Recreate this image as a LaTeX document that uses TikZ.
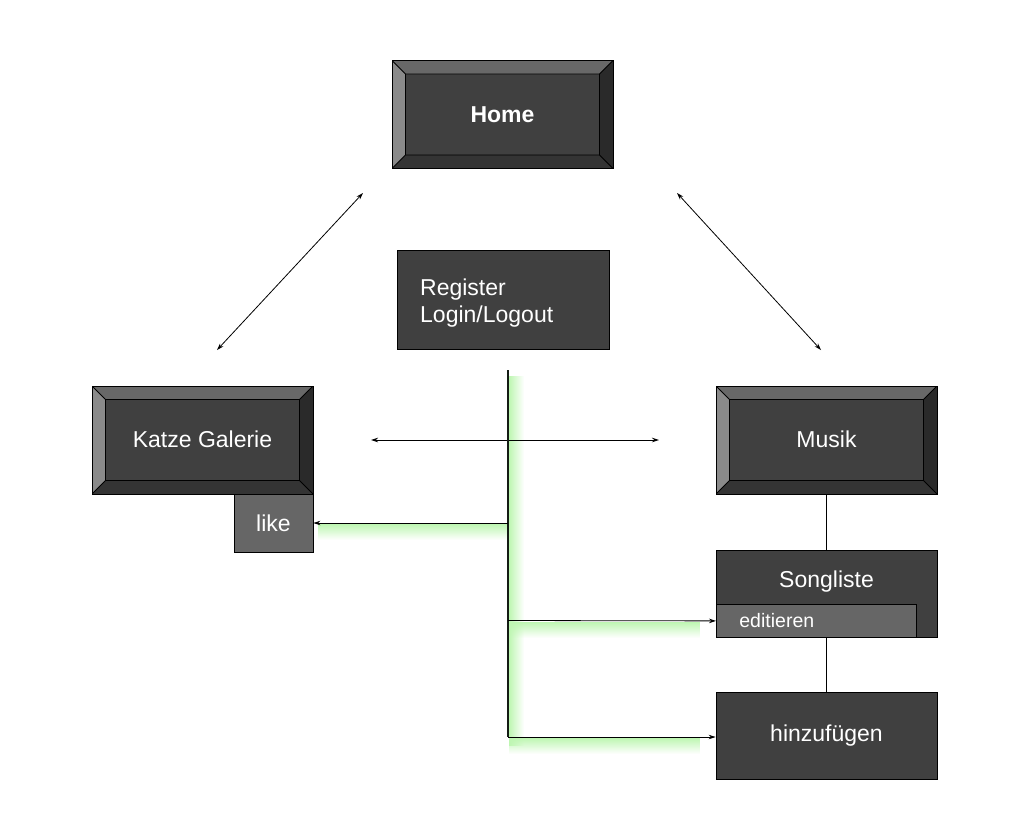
\documentclass[tikz,border=0pt]{standalone}
\usepackage{fontspec}
\setmainfont{Liberation Sans}
\usetikzlibrary{arrows.meta,fadings}
\definecolor{face}{RGB}{64,64,64}
\definecolor{subface}{RGB}{102,102,102}
\definecolor{bvtop}{RGB}{104,104,104}
\definecolor{bvleft}{RGB}{138,138,138}
\definecolor{bvright}{RGB}{42,42,42}
\definecolor{bvbot}{RGB}{52,52,52}
\definecolor{glow}{RGB}{190,246,178}
\definecolor{vline}{RGB}{20,28,20}
\newcommand{\mfont}{\fontsize{23}{27}\selectfont}
\newcommand{\sfont}{\fontsize{19.5}{22}\selectfont}
\tikzfading[name=glowright, left color=transparent!0, right color=transparent!100]
\tikzfading[name=glowdown, top color=transparent!0, bottom color=transparent!100]
\tikzset{
  bevel/.style={draw=black, line width=0.8pt, fill=face, text=white, font=\mfont,
    minimum width=221pt, minimum height=108pt, inner sep=0pt,
    path picture={
      \path (path picture bounding box.north west) coordinate (pa)
            (path picture bounding box.north east) coordinate (pb)
            (path picture bounding box.south east) coordinate (pc)
            (path picture bounding box.south west) coordinate (pd);
      \path ([shift={(13.5pt,-13.5pt)}]pa) coordinate (qa)
            ([shift={(-13.5pt,-13.5pt)}]pb) coordinate (qb)
            ([shift={(-13.5pt,13.5pt)}]pc) coordinate (qc)
            ([shift={(13.5pt,13.5pt)}]pd) coordinate (qd);
      \fill[bvtop] (pa)--(pb)--(qb)--(qa)--cycle;
      \fill[bvright] (pb)--(pc)--(qc)--(qb)--cycle;
      \fill[bvbot] (pc)--(pd)--(qd)--(qc)--cycle;
      \fill[bvleft] (pd)--(pa)--(qa)--(qd)--cycle;
      \draw[line width=0.8pt] (qa) rectangle (qc) (pa)--(qa) (pb)--(qb) (pc)--(qc) (pd)--(qd);
    }},
  plainbox/.style={draw=black, line width=0.8pt, fill=face, text=white, font=\mfont, inner sep=0pt},
  subbox/.style={draw=black, line width=0.8pt, fill=subface, text=white, font=\mfont, inner sep=0pt},
  lbl/.style={text=white, font=\mfont, inner sep=0pt},
  conn/.style={line width=0.8pt, black},
  biarrow/.style={conn, {Stealth[length=7pt,width=4.5pt]}-{Stealth[length=7pt,width=4.5pt]}},
  tiparrow/.style={conn, -{Stealth[length=7pt,width=4.5pt]}},
  glowv/.style={fill=glow, path fading=glowright},
  glowh/.style={fill=glow, path fading=glowdown},
}
\begin{document}
\begin{tikzpicture}[x=1pt,y=-1pt]
\useasboundingbox (0,0) rectangle (1029,823);

% glow
\path[glowv] (509,376) rectangle (524,746);
\path[glowh] (318,524) rectangle (508,540);
\path[glowh] (509,622) rectangle (700,638);
\path[glowh] (509,738) rectangle (700,754);

% nodes
\node[bevel] (home) at (502.5,114.5) {\textbf{Home}};
\node[plainbox, minimum width=212pt, minimum height=99pt] (reg) at (503,299.5) {};
\node[lbl, anchor=west, align=left] (reglbl) at (420,303) {Register\\Login/Logout};
\node[bevel] (katze) at (202.5,440) {\raisebox{2pt}{Katze Galerie}};
\node[subbox, minimum width=79pt, minimum height=58pt] (like) at (273.5,523) {like};
\node[bevel] (musik) at (826.5,440) {\raisebox{2pt}{Musik}};
\node[plainbox, minimum width=221pt, minimum height=87pt] (song) at (826.5,593.5) {};
\node[lbl] (songlbl) at (826.5,582) {Songliste};
\node[subbox, font=\sfont, anchor=north west, minimum width=200pt, minimum height=33pt,
      text width=154pt, inner xsep=23pt, align=left] (edit) at (716,604) {editieren};
\node[plainbox, minimum width=221pt, minimum height=87pt] (hinz) at (826.5,735.5) {hinzuf\"ugen};

% free ends
\coordinate (hl) at (363,193);
\coordinate (kl) at (217,350);
\coordinate (hr) at (677,193);
\coordinate (mr) at (821,350);
\coordinate (ml) at (371,440);
\coordinate (mm) at (659,440);
\coordinate (vtop) at (508,370);
\coordinate (vlike) at (508,523);
\coordinate (vedit) at (508,620.5);
\coordinate (vbot) at (508,737);

% connectors
\draw[biarrow] (hl) -- (kl);
\draw[biarrow] (hr) -- (mr);
\draw[biarrow] (ml) -- (mm);
\draw[conn] (musik.south) -- (song.north);
\draw[conn] (song.south) -- (hinz.north);
\draw[line width=1.4pt, vline] (vtop) -- (vbot);
\draw[tiparrow] (vlike) -- (like.east);
\draw[tiparrow] (vedit) -- (edit.west);
\draw[tiparrow] (vbot) -- (hinz.west |- vbot);
\end{tikzpicture}
\end{document}
